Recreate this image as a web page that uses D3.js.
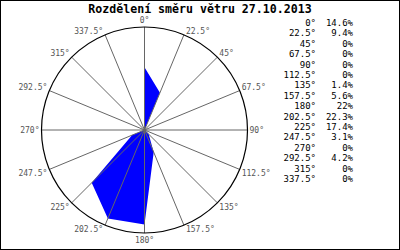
<!DOCTYPE html>
<html><head><meta charset="utf-8">
<script src="https://cdn.jsdelivr.net/npm/d3@7"></script>
<style>body{margin:0;background:#fff}svg{display:block}</style>
</head><body>
<script>
const title = "Rozdělení směru větru 27.10.2013";
const angles = [0,22.5,45,67.5,90,112.5,135,157.5,180,202.5,225,247.5,270,292.5,315,337.5];
const angleLabels = ["0°","22.5°","45°","67.5°","90°","112.5°","135°","157.5°","180°","202.5°","225°","247.5°","270°","292.5°","315°","337.5°"];
const values = [14.6,9.4,0,0,0,0,1.4,5.6,22,22.3,17.4,3.1,0,4.2,0,0];
const valueLabels = ["14.6%","9.4%","0%","0%","0%","0%","1.4%","5.6%","22%","22.3%","17.4%","3.1%","0%","4.2%","0%","0%"];

const W=400,H=250, cx=144.5, cy=130, R=103;
const svg = d3.select("body").append("svg").attr("width",W).attr("height",H);
svg.append("rect").attr("x",0.5).attr("y",0.5).attr("width",W-1).attr("height",H-1)
  .attr("fill","#fff").attr("stroke","#000");
svg.append("text").attr("x",200).attr("y",13).attr("text-anchor","middle")
  .attr("font-family","DejaVu Sans Mono").attr("font-weight","bold").attr("font-size","11.6px")
  .text(title);

const r = d3.scaleLinear().domain([0,24]).range([0,R]);
const ang = d3.scaleLinear().domain([0,360]).range([0,2*Math.PI]);
const g = svg.append("g").attr("transform",`translate(${cx},${cy})`);

// polygon
const line = d3.lineRadial().angle((d,i)=>ang(angles[i])).radius(d=>r(d)).curve(d3.curveLinearClosed);
g.append("path").attr("d",line(values)).attr("fill","#0000ff").attr("stroke","none");

// spokes
g.selectAll("line.spoke").data(angles).join("line")
  .attr("x1",0).attr("y1",0)
  .attr("x2",d=>R*Math.sin(ang(d))).attr("y2",d=>-R*Math.cos(ang(d)))
  .attr("stroke","#666").attr("stroke-width",1);
g.append("circle").attr("r",R).attr("fill","none").attr("stroke","#000").attr("stroke-width",1.2);

// angle labels
g.selectAll("text.al").data(angles).join("text")
  .attr("font-family","DejaVu Sans Mono").attr("font-size","8px").attr("fill","#555")
  .each(function(d,i){
    const a=ang(d), x=R*Math.sin(a), y=-R*Math.cos(a);
    const sx=Math.abs(x)<1e-6?0:Math.sign(x), sy=Math.abs(y)<1e-6?0:Math.sign(y);
    const t=d3.select(this);
    t.attr("text-anchor", sx>0?"start":sx<0?"end":"middle");
    let px = x + sx*2, py;
    if (sy<0) py = y - 1 - (sx===0?3:0);
    else if (sy>0) py = y + 7 + (sx===0?3:0);
    else py = y + 3;
    t.attr("x",px).attr("y",py).text(angleLabels[i]);
  });

// legend
const ly = d3.scaleLinear().domain([0,15]).range([26,182]);
const leg = svg.append("g").attr("font-family","DejaVu Sans Mono").attr("font-size","9px").attr("fill","#000");
leg.selectAll("text.a").data(angleLabels).join("text")
  .attr("x",316).attr("y",(d,i)=>ly(i)).attr("text-anchor","end").text(d=>d);
leg.selectAll("text.v").data(valueLabels).join("text")
  .attr("x",353).attr("y",(d,i)=>ly(i)).attr("text-anchor","end").text(d=>d);
</script>
</body></html>
